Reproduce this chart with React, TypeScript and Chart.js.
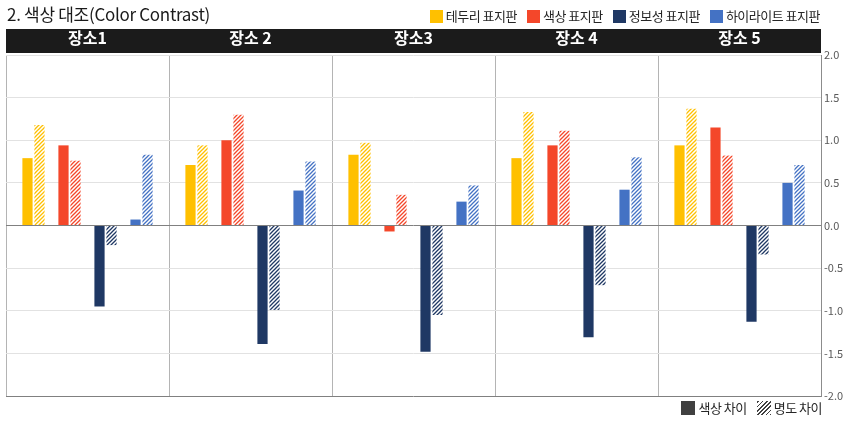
import React, { useEffect, useRef } from "react";
import { Chart, registerables } from "chart.js";

Chart.register(...registerables);

const FONT = "'Noto Sans CJK KR', 'Noto Sans', sans-serif";

const places = ["장소1", "장소 2", "장소3", "장소 4", "장소 5"];
const signTypes = ["테두리 표지판", "색상 표지판", "정보성 표지판", "하이라이트 표지판"];
const signColors = ["#FFC000", "#F4472A", "#1F3864", "#4472C4"];

// 색상 차이 (solid bars)
const borderHue = [0.79, 0.71, 0.83, 0.79, 0.94];
const colorHue = [0.94, 1.0, -0.07, 0.94, 1.15];
const infoHue = [-0.95, -1.39, -1.48, -1.31, -1.13];
const highlightHue = [0.07, 0.41, 0.28, 0.42, 0.5];

// 명도 차이 (hatched bars)
const borderLight = [1.18, 0.94, 0.97, 1.33, 1.37];
const colorLight = [0.76, 1.3, 0.36, 1.11, 0.82];
const infoLight = [-0.23, -0.99, -1.05, -0.7, -0.34];
const highlightLight = [0.83, 0.75, 0.47, 0.8, 0.71];

const yTicks = [-2, -1.5, -1, -0.5, 0, 0.5, 1, 1.5, 2];

const hueSeries = [borderHue, colorHue, infoHue, highlightHue];
const lightSeries = [borderLight, colorLight, infoLight, highlightLight];

function makeHatch(color: string) {
  const size = 4;
  const c = document.createElement("canvas");
  c.width = size;
  c.height = size;
  const g = c.getContext("2d")!;
  g.fillStyle = "#ffffff";
  g.fillRect(0, 0, size, size);
  g.strokeStyle = color;
  g.lineWidth = 1.3;
  g.beginPath();
  g.moveTo(0, size);
  g.lineTo(size, 0);
  g.moveTo(-1, 1);
  g.lineTo(1, -1);
  g.moveTo(size - 1, size + 1);
  g.lineTo(size + 1, size - 1);
  g.stroke();
  return g.createPattern(c, "repeat")!;
}

const headerBar = {
  id: "headerBar",
  beforeDraw(chart: Chart) {
    const s = chart.scales.x;
    const ctx = chart.ctx;
    ctx.save();
    ctx.fillStyle = "#1B1B1B";
    ctx.fillRect(s.left, s.top, s.width, 24);
    ctx.restore();
  },
};

const BarChart = () => {
  const canvasRef = useRef<HTMLCanvasElement>(null);
  const chartRef = useRef<Chart | null>(null);

  useEffect(() => {
    if (!canvasRef.current) return;
    const ctx = canvasRef.current.getContext("2d");
    if (!ctx) return;
    if (chartRef.current) chartRef.current.destroy();

    // eslint-disable-next-line @typescript-eslint/no-explicit-any
    const datasets: any[] = [];
    signTypes.forEach((name, i) => {
      datasets.push({
        label: name + " 색상 차이",
        data: hueSeries[i],
        backgroundColor: signColors[i],
      });
      datasets.push({
        label: name + " 명도 차이",
        data: lightSeries[i],
        backgroundColor: makeHatch(signColors[i]),
      });
      // empty slot between the pairs
      if (i < signTypes.length - 1) {
        datasets.push({ label: "", data: places.map(() => null) });
      }
    });

    chartRef.current = new Chart(ctx, {
      type: "bar",
      data: { labels: places, datasets },
      options: {
        animation: false,
        responsive: true,
        maintainAspectRatio: false,
        categoryPercentage: 0.81,
        barPercentage: 0.85,
        layout: { padding: { left: 6, right: 0, top: 29, bottom: 26 } },
        plugins: {
          legend: { display: false },
          tooltip: { enabled: false },
        },
        scales: {
          x: {
            type: "category",
            position: "top",
            afterFit: (scale) => {
              scale.height = 26;
            },
            border: { display: false },
            grid: { color: "#B4B4B4", offset: true, drawTicks: false },
            ticks: {
              color: "#ffffff",
              padding: 7,
              font: { family: FONT, size: 16, weight: "bold" },
            },
          },
          y: {
            position: "right",
            min: -2,
            max: 2,
            afterFit: (scale) => {
              scale.width = 24;
            },
            afterBuildTicks: (scale) => {
              scale.ticks = yTicks.map((v) => ({ value: v }));
            },
            border: { display: true, color: "#8C8C8C" },
            grid: {
              drawTicks: false,
              color: (c) =>
                c.tick.value === 0 || c.tick.value === -2 ? "#808080" : "#E2E2E2",
            },
            ticks: {
              padding: 3,
              color: "#595959",
              font: { family: FONT, size: 11 },
              callback: (v) => Number(v).toFixed(1),
            },
          },
        },
      },
      plugins: [headerBar],
    });

    return () => {
      if (chartRef.current) {
        chartRef.current.destroy();
        chartRef.current = null;
      }
    };
  }, []);

  return (
    <div style={{ position: "absolute", left: 0, top: 0, width: 845, height: 422 }}>
      <canvas ref={canvasRef} />
    </div>
  );
};

const swatch = (bg: string): React.CSSProperties => ({
  display: "inline-block",
  width: 13,
  height: 13,
  background: bg,
  marginRight: 3,
  verticalAlign: "-2px",
});

const hatchCss =
  "repeating-linear-gradient(-45deg, #404040 0px, #404040 1.2px, #ffffff 1.2px, #ffffff 3px)";

const App = () => {
  return (
    <div
      style={{
        position: "fixed",
        left: 0,
        top: 0,
        width: 845,
        height: 422,
        background: "#ffffff",
        fontFamily: FONT,
        color: "#262626",
      }}
    >
      <BarChart />
      <div
        style={{
          position: "absolute",
          left: 7,
          top: 1,
          fontSize: 17,
          letterSpacing: "-0.3px",
          color: "#1A1A1A",
          whiteSpace: "nowrap",
        }}
      >
        2. 색상 대조(Color Contrast)
      </div>
      <div
        style={{
          position: "absolute",
          right: 25,
          top: 6,
          fontSize: 13,
          letterSpacing: "-0.5px",
          whiteSpace: "nowrap",
        }}
      >
        {signTypes.map((name, i) => (
          <span key={name} style={{ marginLeft: i === 0 ? 0 : 10 }}>
            <span style={swatch(signColors[i])} />
            {name}
          </span>
        ))}
      </div>
      <div
        style={{
          position: "absolute",
          right: 23,
          top: 398,
          fontSize: 13,
          letterSpacing: "-0.5px",
          whiteSpace: "nowrap",
        }}
      >
        <span style={{ ...swatch("#404040"), width: 14, height: 14 }} />
        색상 차이
        <span style={{ ...swatch(hatchCss), width: 14, height: 14, marginLeft: 10 }} />
        명도 차이
      </div>
    </div>
  );
};

export default App;
